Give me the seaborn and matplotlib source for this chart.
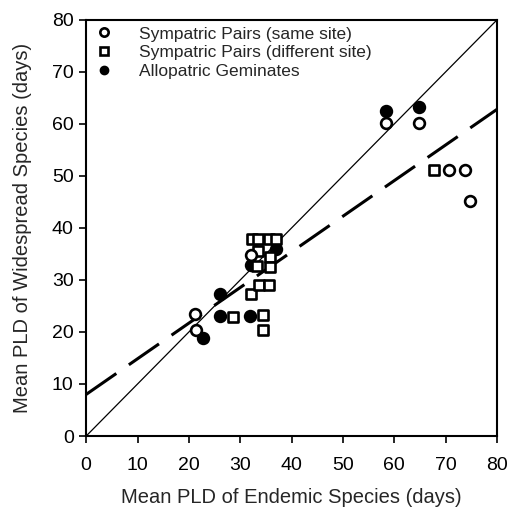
import matplotlib
matplotlib.use("Agg")
import matplotlib.pyplot as plt
from matplotlib.lines import Line2D
import seaborn as sns
import pandas as pd

sns.set_theme(style="ticks")
plt.rcParams['font.family'] = ['Liberation Sans', 'DejaVu Sans']

# Sympatric pairs (same site) - open circles
same_x = [21.2, 21.4, 32.0, 58.4, 64.7, 70.6, 73.8, 74.8]
same_y = [23.4, 20.4, 34.8, 60.1, 60.1, 51.2, 51.2, 45.1]

# Sympatric pairs (different site) - open squares
diff_x = [32.2, 33.5, 35.6, 37.0, 33.5, 35.7, 33.3, 35.7, 32.1, 33.7, 35.5, 28.6, 34.5, 34.5, 67.7]
diff_y = [37.8, 37.8, 37.8, 37.8, 35.5, 34.5, 32.6, 32.5, 27.3, 29.0, 29.0, 22.9, 23.3, 20.4, 51.2]

# Allopatric geminates - filled circles
allo_x = [22.7, 26.0, 26.0, 31.9, 32.0, 36.9, 58.4, 64.7]
allo_y = [18.8, 27.3, 23.1, 23.1, 32.8, 36.0, 62.4, 63.2]

# Fitted lines (endpoints)
fit_x = [0, 80]
solid_y = [0.0, 80.0]
dashed_y = [8.0, 62.8]

labels = ["Sympatric Pairs (same site)", "Sympatric Pairs (different site)", "Allopatric Geminates"]

fig = plt.figure(figsize=(5.13, 5.07), dpi=100)
ax = fig.add_axes([0.168, 0.140, 0.801, 0.821])

sns.lineplot(x=fit_x, y=solid_y, ax=ax, color="black", linewidth=0.9)
sns.lineplot(x=fit_x, y=dashed_y, ax=ax, color="black", linewidth=2.2)
ax.lines[-1].set_dashes([12, 5])

mk = dict(s=60, linewidth=1.9, edgecolor="black", zorder=3)
sns.scatterplot(x=allo_x, y=allo_y, ax=ax, marker="o", color="black", **mk)
sns.scatterplot(x=diff_x, y=diff_y, ax=ax, marker="s", facecolor="white", **mk)
sns.scatterplot(x=same_x, y=same_y, ax=ax, marker="o", facecolor="white", **mk)

ax.set_xlim(0, 80)
ax.set_ylim(0, 80)
ax.set_xticks(range(0, 81, 10))
ax.set_yticks(range(0, 81, 10))
for s in ax.spines.values():
    s.set_visible(True)
    s.set_linewidth(1.5)
    s.set_color("black")
ax.tick_params(direction="out", length=5, width=1.2, labelsize=14, colors="black")
ax.tick_params(axis="x", pad=10)
ax.tick_params(axis="y", pad=4)
ax.set_xlabel("Mean PLD of Endemic Species (days)", fontsize=14.5, labelpad=10)
ax.set_ylabel("Mean PLD of Widespread Species (days)", fontsize=14.5, labelpad=14)

handles = [
    Line2D([], [], marker="o", linestyle="", markersize=6, markerfacecolor="white",
           markeredgecolor="black", markeredgewidth=1.9),
    Line2D([], [], marker="s", linestyle="", markersize=6, markerfacecolor="white",
           markeredgecolor="black", markeredgewidth=1.9),
    Line2D([], [], marker="o", linestyle="", markersize=6, markerfacecolor="black",
           markeredgecolor="black"),
]
ax.legend(handles, labels, loc="upper left", bbox_to_anchor=(-0.02, 1.005), frameon=False,
          fontsize=12.5, handletextpad=1.0, labelspacing=0.2, borderaxespad=0.1)

fig.savefig("out.png", dpi=100)
